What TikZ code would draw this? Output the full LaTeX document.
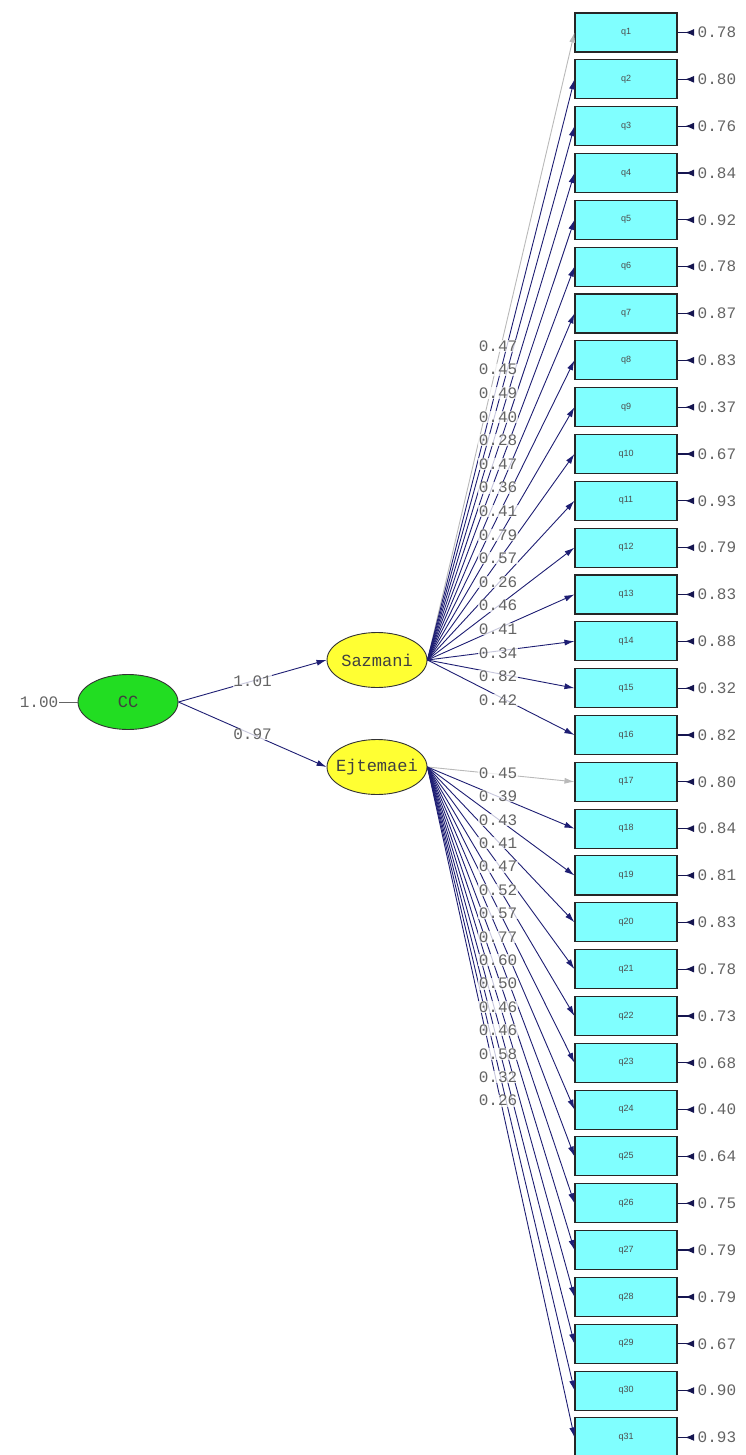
\documentclass[tikz,border=0pt]{standalone}
\usepackage{fontspec}
\usetikzlibrary{arrows.meta,shapes.geometric}
\newfontfamily\lmono{Liberation Mono}
\newfontfamily\lsans{Liberation Sans}
\definecolor{boxcyan}{RGB}{128,255,255}
\definecolor{ccgreen}{RGB}{34,221,34}
\definecolor{latyellow}{RGB}{255,255,51}
\definecolor{pathnavy}{RGB}{30,30,115}
\definecolor{numgray}{RGB}{100,100,100}
\definecolor{fixgray}{RGB}{185,185,185}
\begin{document}
\begin{tikzpicture}[x=1pt,y=-1pt,
 indbox/.style={draw=black!85,fill=boxcyan,line width=1.1pt,minimum width=102pt,minimum height=39pt,inner sep=0pt,font=\lsans\fontsize{9}{9}\selectfont,text=black!70},
 latent/.style={ellipse,draw=black!80,line width=0.9pt,minimum width=100pt,minimum height=55pt,inner xsep=-9pt,inner ysep=-4pt,font=\lmono\fontsize{17}{17}\selectfont,text=black!75},
 numlab/.style={font=\lmono\fontsize{16}{16}\selectfont,text=numgray,inner sep=0.5pt},
 lab/.style={numlab,fill=white,fill opacity=0.75,text opacity=1},
 load/.style={draw=pathnavy,line width=0.9pt,-{Latex[length=10pt,width=6pt]}},
 fixload/.style={draw=fixgray,line width=0.9pt,-{Latex[length=10pt,width=6pt]}},
 errarr/.style={draw=pathnavy!70!black,line width=1.2pt,{Latex[reversed,length=9pt,width=7pt]}-},
 varline/.style={draw=numgray,line width=0.7pt}
]
\useasboundingbox (0,0) rectangle (746,1455);
% indicator boxes with error variances
\foreach \i/\v in {1/0.78,2/0.80,3/0.76,4/0.84,5/0.92,6/0.78,7/0.87,8/0.83,9/0.37,10/0.67,11/0.93,12/0.79,13/0.83,14/0.88,15/0.32,16/0.82,17/0.80,18/0.84,19/0.81,20/0.83,21/0.78,22/0.73,23/0.68,24/0.40,25/0.64,26/0.75,27/0.79,28/0.79,29/0.67,30/0.90,31/0.93}{
  \pgfmathsetmacro\yy{32.5+(\i-1)*46.83}
  \node[indbox] (q\i) at (626,\yy) {q\i};
  \coordinate (e\i) at (694,\yy);
  \draw[errarr] (e\i) -- (q\i.east);
  \node[numlab,anchor=west] (ev\i) at (697,\yy) {\v};
}
% latent variables
\node[latent,fill=ccgreen] (cc) at (128,702) {CC};
\node[latent,fill=latyellow] (saz) at (377,660) {Sazmani};
\node[latent,fill=latyellow] (ejt) at (377,767) {Ejtemaei};
\node[numlab,anchor=east] (ccv) at (59,702) {1.00};
\draw[varline] (ccv.east) -- (cc.west);
\draw[load] (cc.east) -- node[lab,pos=0.5] (p1) {1.01} (saz.west);
\draw[load] (cc.east) -- node[lab,pos=0.5] (p2) {0.97} (ejt.west);
% loadings lines
\draw[fixload] (saz.east) -- (q1.west);
\foreach \i in {2,...,16}{\draw[load] (saz.east) -- (q\i.west);}
\draw[fixload] (ejt.east) -- (q17.west);
\foreach \i in {18,...,31}{\draw[load] (ejt.east) -- (q\i.west);}
% loading labels
\foreach \v [count=\k from 0] in {0.47,0.45,0.49,0.40,0.28,0.47,0.36,0.41,0.79,0.57,0.26,0.46,0.41,0.34,0.82,0.42}{
  \node[lab] (ls\k) at (498,{346+23.6*\k}) {\v};
}
\foreach \v [count=\k from 0] in {0.45,0.39,0.43,0.41,0.47,0.52,0.57,0.77,0.60,0.50,0.46,0.46,0.58,0.32,0.26}{
  \node[lab] (le\k) at (498,{773+23.4*\k}) {\v};
}
\end{tikzpicture}
\end{document}
